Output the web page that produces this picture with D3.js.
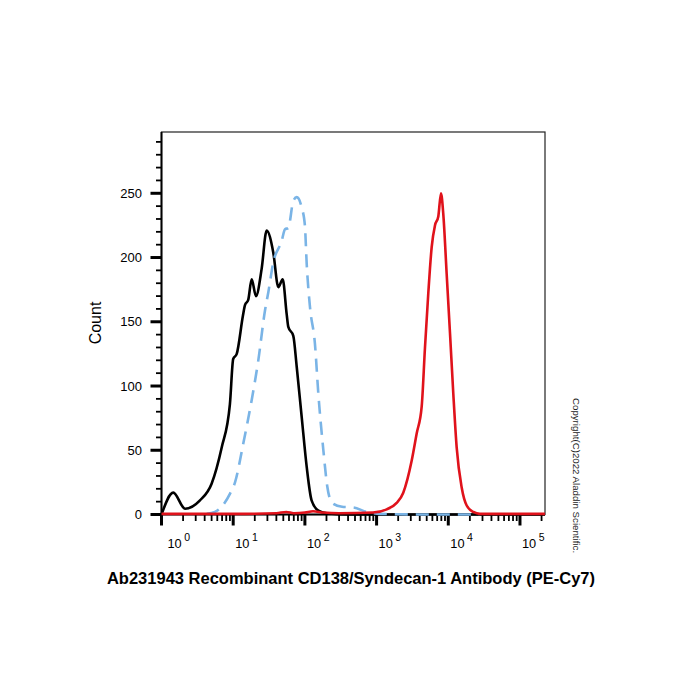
<!DOCTYPE html>
<html>
<head>
<meta charset="utf-8">
<script src="https://cdn.jsdelivr.net/npm/d3@7"></script>
<style>
  body { margin: 0; background: #fff; }
  svg { display: block; font-family: "Liberation Sans", Arial, sans-serif; }
</style>
</head>
<body>
<script>
'use strict';

var width = 700,
    height = 700;

// isotype (black), unstained (blue dashed), CD138 PE-Cy7 (red)
var isoX = [1, 1.46, 2.13, 3.44, 5.0, 6.9, 9.0, 10.0, 11.2, 13.7, 14.6, 16.2, 18.1, 20.8, 24.9, 29.3, 36.2, 42.6, 49.0, 55.7, 58.7, 68.9, 76.9, 90.2, 106, 124, 154, 201, 400, 2000, 20000, 223000];
var isoY = [0, 17, 4.5, 11, 24, 52, 86, 121, 125, 155, 163, 167, 183, 170, 191, 221, 204, 177, 183, 156, 146, 139, 115, 76, 37, 11, 3, 1, 0, 0, 0, 0];

var blankX = [4.27, 5.57, 9.0, 10.6, 13.8, 18.1, 22.4, 27.8, 30.9, 36.2, 47.5, 52.8, 58.7, 68.9, 76.9, 90.2, 100, 106, 118, 138, 154, 181, 205, 240, 330, 473, 728, 1120, 5000, 27000];
var blankY = [0.5, 2, 16, 25, 55, 89, 120, 159, 173, 196, 213, 222, 223, 244, 247, 239, 225, 195, 161, 133, 94, 50, 22, 9, 6, 5.5, 2, 0.5, 0, 0];

var cdX = [1, 10, 40, 55, 70, 100, 130, 180, 300, 891, 1383, 1906, 2356, 3090, 3624, 4256, 4732, 5260, 5865, 6520, 7258, 7909, 8515, 9500, 10570, 11750, 13100, 15380, 18060, 22340, 27670, 223000];
var cdY = [0.5, 0.5, 1, 2, 1, 1.5, 2.5, 1.5, 1, 1.5, 4, 9, 17, 42, 63, 84, 130, 172, 208, 225, 232, 250, 234, 187, 141, 94, 52, 21, 7, 2, 0.5, 0.5];

var yTicks = [0, 50, 100, 150, 200, 250];
var decades = [0, 1, 2, 3, 4, 5];

var plot = {left: 161.5, right: 545, top: 132, bottom: 514.5};

var svg = d3.select("body").append("svg")
  .attr("width", width)
  .attr("height", height);

var x = d3.scaleLog()
  .domain([1, Math.pow(10, 5.349)])
  .range([plot.left, plot.right]);

var y = d3.scaleLinear()
  .domain([0, 297.7])
  .range([plot.bottom, plot.top]);

// frame
svg.append("rect")
  .attr("x", plot.left)
  .attr("y", plot.top)
  .attr("width", plot.right - plot.left)
  .attr("height", plot.bottom - plot.top)
  .attr("fill", "none")
  .attr("stroke", "#222")
  .attr("stroke-width", 1.2);

// y axis
var yMinor = d3.range(0, 291, 10).filter(function(v) { return v % 50 !== 0; });

svg.append("g").selectAll("line.ymin")
  .data(yMinor)
  .enter().append("line")
  .attr("x1", plot.left - 5.5).attr("x2", plot.left)
  .attr("y1", function(d) { return y(d); })
  .attr("y2", function(d) { return y(d); })
  .attr("stroke", "#000").attr("stroke-width", 1.8);

svg.append("g").selectAll("line.ymaj")
  .data(yTicks)
  .enter().append("line")
  .attr("x1", plot.left - 11).attr("x2", plot.left)
  .attr("y1", function(d) { return y(d); })
  .attr("y2", function(d) { return y(d); })
  .attr("stroke", "#000").attr("stroke-width", 3);

svg.append("g").selectAll("text")
  .data(yTicks)
  .enter().append("text")
  .attr("x", 142)
  .attr("y", function(d) { return y(d); })
  .attr("dy", "0.36em")
  .attr("text-anchor", "end")
  .attr("font-size", 13)
  .text(function(d) { return d; });

// x axis (log decades with 2..9 minor ticks)
var xMinor = [];
decades.forEach(function(e) {
  for (var m = 2; m <= 9; m++) {
    var v = m * Math.pow(10, e);
    if (v <= x.domain()[1]) xMinor.push(v);
  }
});

svg.append("g").selectAll("line.xmin")
  .data(xMinor)
  .enter().append("line")
  .attr("x1", function(d) { return x(d); })
  .attr("x2", function(d) { return x(d); })
  .attr("y1", plot.bottom).attr("y2", plot.bottom + 6.5)
  .attr("stroke", "#000").attr("stroke-width", 1.8);

svg.append("g").selectAll("line.xmaj")
  .data(decades)
  .enter().append("line")
  .attr("x1", function(d) { return x(Math.pow(10, d)); })
  .attr("x2", function(d) { return x(Math.pow(10, d)); })
  .attr("y1", plot.bottom).attr("y2", plot.bottom + 11)
  .attr("stroke", "#000").attr("stroke-width", 3);

var xl = svg.append("g").selectAll("text")
  .data(decades)
  .enter().append("text")
  .attr("x", function(d) { return Math.max(x(Math.pow(10, d)) + 2, plot.left + 6); })
  .attr("y", 548)
  .attr("font-size", 12.8);
xl.append("tspan").text("10");
xl.append("tspan")
  .attr("dx", 2.5)
  .attr("dy", -7.5)
  .attr("font-size", 10.5)
  .text(function(d) { return d; });

// left/bottom axis lines
svg.append("line")
  .attr("x1", plot.left).attr("x2", plot.left)
  .attr("y1", plot.top).attr("y2", plot.bottom)
  .attr("stroke", "#000").attr("stroke-width", 2);
svg.append("line")
  .attr("x1", plot.left).attr("x2", plot.right)
  .attr("y1", plot.bottom).attr("y2", plot.bottom)
  .attr("stroke", "#000").attr("stroke-width", 2);

// histograms
function drawCurve(xs, ys, color, dash) {
  var line = d3.line()
    .x(function(d) { return x(d[0]); })
    .y(function(d) { return y(d[1]); })
    .curve(d3.curveMonotoneX);
  svg.append("path")
    .datum(d3.zip(xs, ys))
    .attr("d", line)
    .attr("fill", "none")
    .attr("stroke", color)
    .attr("stroke-width", 2.6)
    .attr("stroke-linejoin", "round")
    .attr("stroke-dasharray", dash);
}

drawCurve(isoX, isoY, "#000000", null);
drawCurve(blankX, blankY, "#7ab4e6", "13,8");
drawCurve(cdX, cdY, "#e0121b", null);

// labels
svg.append("text")
  .attr("transform", "translate(101,323) rotate(-90)")
  .attr("text-anchor", "middle")
  .attr("font-size", 16)
  .text("Count");

svg.append("text")
  .attr("x", 351)
  .attr("y", 584)
  .attr("text-anchor", "middle")
  .attr("font-size", 16.5)
  .attr("font-weight", "bold")
  .text("Ab231943 Recombinant CD138/Syndecan-1 Antibody (PE-Cy7)");

svg.append("text")
  .attr("transform", "translate(572.5,398) rotate(90)")
  .attr("font-size", 9.7)
  .attr("fill", "#222")
  .text("Copyright(C)2022 Aladdin Scientific.");
</script>
</body>
</html>
